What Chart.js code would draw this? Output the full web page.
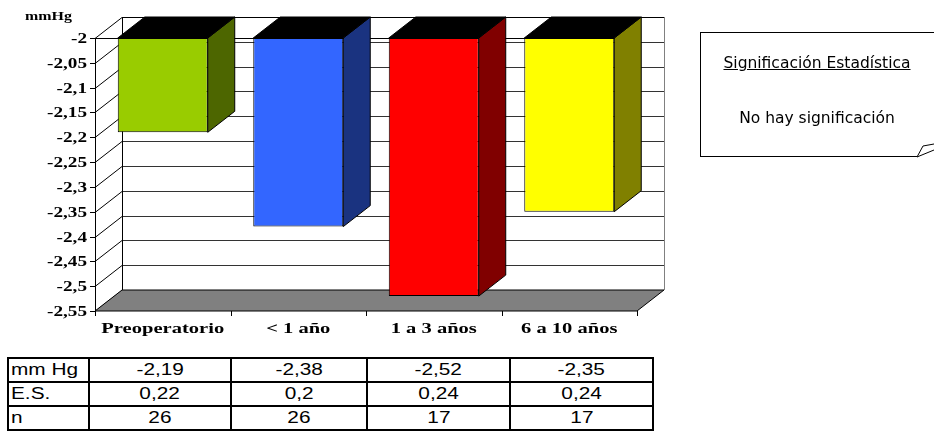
<!DOCTYPE html>
<html>
<head>
<meta charset="utf-8">
<script src="https://cdn.jsdelivr.net/npm/chart.js@4.4.1/dist/chart.umd.min.js"></script>
<style>
  html, body { margin: 0; padding: 0; background: #fff; }
  body { position: relative; width: 934px; height: 446px; overflow: hidden; }
  #chartBox { position: absolute; left: 0; top: 0; width: 934px; height: 350px; }
  #note { position: absolute; left: 700px; top: 32px; width: 260px; height: 125px; border-left: 1px solid #000; border-top: 1px solid #000; box-sizing: border-box; }
  #noteBottom { position: absolute; left: 700px; top: 156px; width: 217px; height: 1px; background: #000; }
  .noteText { position: absolute; left: 700px; width: 234px; text-align: center; font: 15.5px "DejaVu Sans", sans-serif; line-height: 18px; color: #000; }
  #fold { position: absolute; left: 910px; top: 138px; }
  #stats { position: absolute; left: 7px; top: 357px; border-collapse: collapse; table-layout: fixed; font: 16px "Liberation Sans", Arial, sans-serif; }
  #stats td { border: 2px solid #000; height: 22px; padding: 0; text-align: center; white-space: nowrap; overflow: hidden; }
  #stats td span { display: inline-block; transform: scaleX(1.3); }
  #stats td.rowHead { text-align: left; padding-left: 2px; }
  #stats td.rowHead span { transform-origin: left center; }
</style>
</head>
<body>
<div id="chartBox"><canvas id="chart" width="934" height="350"></canvas></div>

<div id="note"></div>
<div id="noteBottom"></div>
<div class="noteText" style="top:54px; text-decoration: underline;">Significación Estadística</div>
<div class="noteText" style="top:109px;">No hay significación</div>
<svg id="fold" width="24" height="22">
  <polyline points="7,19 13,8 24,6" fill="none" stroke="#000" stroke-width="1"/>
  <line x1="7" y1="19" x2="24" y2="12" stroke="#000" stroke-width="1"/>
</svg>

<table id="stats">
  <colgroup>
    <col style="width:81px"><col style="width:142px"><col style="width:136px"><col style="width:143px"><col style="width:143px">
  </colgroup>
  <tbody id="statsBody"></tbody>
</table>

<script>
const categories = ['Preoperatorio', '< 1 año', '1 a 3 años', '6 a 10 años'];
const meanValues = [-2.19, -2.38, -2.52, -2.35];
const meanLabels = ['-2,19', '-2,38', '-2,52', '-2,35'];
const errLabels = ['0,22', '0,2', '0,24', '0,24'];
const nLabels = ['26', '26', '17', '17'];
const yTicks = [-2, -2.05, -2.1, -2.15, -2.2, -2.25, -2.3, -2.35, -2.4, -2.45, -2.5, -2.55];
const yTickLabels = ['-2', '-2,05', '-2,1', '-2,15', '-2,2', '-2,25', '-2,3', '-2,35', '-2,4', '-2,45', '-2,5', '-2,55'];
const frontColors = ['#99CC00', '#3366FF', '#FF0000', '#FFFF00'];
const sideColors = ['#4D6600', '#1A3380', '#800000', '#808000'];

// fill table
const rows = [['mm Hg', meanLabels], ['E.S.', errLabels], ['n', nLabels]];
const tbody = document.getElementById('statsBody');
rows.forEach(([head, vals]) => {
  const tr = document.createElement('tr');
  tr.innerHTML = '<td class="rowHead"><span>' + head + '</span></td>' +
    vals.map(v => '<td><span>' + v + '</span></td>').join('');
  tbody.appendChild(tr);
});

// depth of the 3d box
const DX = 27, DY = -21;

function poly(ctx, pts, fill, stroke) {
  ctx.beginPath();
  ctx.moveTo(pts[0][0], pts[0][1]);
  for (let i = 1; i < pts.length; i++) ctx.lineTo(pts[i][0], pts[i][1]);
  ctx.closePath();
  if (fill) { ctx.fillStyle = fill; ctx.fill(); }
  if (stroke) { ctx.strokeStyle = stroke; ctx.lineWidth = 1; ctx.stroke(); }
}

function line(ctx, x1, y1, x2, y2, color) {
  ctx.beginPath();
  ctx.moveTo(x1, y1);
  ctx.lineTo(x2, y2);
  ctx.strokeStyle = color;
  ctx.lineWidth = 1;
  ctx.stroke();
}

// the original text is stretched sideways
function wideText(ctx, s, x, y, align, font, sx) {
  ctx.save();
  ctx.translate(x, y);
  ctx.scale(sx, 1);
  ctx.font = font;
  ctx.fillStyle = '#000';
  ctx.textAlign = align;
  ctx.textBaseline = 'middle';
  ctx.fillText(s, 0, 0);
  ctx.restore();
}

const frame3d = {
  id: 'frame3d',
  beforeDatasetsDraw(chart) {
    const { ctx, chartArea: a, scales: { x, y } } = chart;
    ctx.save();
    const top = y.getPixelForValue(yTicks[0]);
    const bottom = y.getPixelForValue(yTicks[yTicks.length - 1]);

    // back wall gridlines + side wall diagonals
    yTicks.forEach((v, i) => {
      const py = Math.round(y.getPixelForValue(v)) + 0.5;
      if (i > 0 && i < yTicks.length - 1) line(ctx, a.left + DX, py + DY, a.right + DX, py + DY, '#333');
      line(ctx, a.left, py, a.left + DX, py + DY, '#000');
    });
    line(ctx, a.left + DX, top + DY + 0.5, a.right + DX, top + DY + 0.5, '#000');
    line(ctx, a.left + DX + 0.5, top + DY, a.left + DX + 0.5, bottom + DY, '#000');
    line(ctx, a.right + DX + 0.5, top + DY, a.right + DX + 0.5, bottom + DY, '#808080');

    // floor
    poly(ctx, [[a.left, bottom], [a.right, bottom], [a.right + DX, bottom + DY], [a.left + DX, bottom + DY]], '#808080', '#000');

    // category axis line at the top with ticks
    const step = x.getPixelForValue(1) - x.getPixelForValue(0);
    line(ctx, a.left, top + 0.5, a.right, top + 0.5, '#000');
    for (let i = 0; i <= categories.length; i++) {
      const px = Math.round(x.getPixelForValue(i) - step / 2) + 0.5;
      line(ctx, px, top, px, top + 5, '#000');
    }

    // bar side and top faces
    chart.getDatasetMeta(0).data.forEach((bar, i) => {
      const p = bar.getProps(['x', 'y', 'base', 'width'], true);
      const l = p.x - p.width / 2, r = p.x + p.width / 2;
      poly(ctx, [[r, p.base], [r, p.y], [r + DX, p.y + DY], [r + DX, p.base + DY]], sideColors[i], '#000');
      poly(ctx, [[l, p.base], [r, p.base], [r + DX, p.base + DY], [l + DX, p.base + DY]], '#000', '#000');
    });
    ctx.restore();
  },
  afterDraw(chart) {
    const { ctx, chartArea: a, scales: { x, y } } = chart;
    ctx.save();
    const top = y.getPixelForValue(yTicks[0]);
    const bottom = y.getPixelForValue(yTicks[yTicks.length - 1]);
    const ax = Math.round(a.left) + 0.5;
    line(ctx, ax, top, ax, bottom, '#000');
    yTicks.forEach((v, i) => {
      const py = Math.round(y.getPixelForValue(v)) + 0.5;
      line(ctx, a.left - 5, py, a.left, py, '#000');
      wideText(ctx, yTickLabels[i], a.left - 8, py + 1, 'right', 'bold 15px "Liberation Serif", "Times New Roman", serif', 1.28);
    });

    const step = x.getPixelForValue(1) - x.getPixelForValue(0);
    for (let i = 0; i <= categories.length; i++) {
      const px = Math.round(x.getPixelForValue(i) - step / 2) + 0.5;
      line(ctx, px, bottom, px, bottom + 5, '#000');
    }
    categories.forEach((c, i) => {
      wideText(ctx, c, x.getPixelForValue(i), bottom + 18, 'center', 'bold 15px "Liberation Serif", "Times New Roman", serif', 1.37);
    });

    wideText(ctx, 'mmHg', 25, 17, 'left', 'bold 12px "Liberation Serif", "Times New Roman", serif', 1.33);
    ctx.restore();
  }
};

new Chart(document.getElementById('chart'), {
  type: 'bar',
  data: {
    labels: categories,
    datasets: [{
      data: meanValues,
      base: -2,
      backgroundColor: frontColors,
      borderColor: '#000',
      borderWidth: 1,
      borderSkipped: false,
      barPercentage: 0.664,
      categoryPercentage: 1
    }]
  },
  options: {
    responsive: false,
    animation: false,
    devicePixelRatio: 1,
    layout: { padding: { left: 95, right: 297, top: 38, bottom: 39 } },
    plugins: { legend: { display: false }, tooltip: { enabled: false } },
    scales: {
      x: { display: false },
      y: { display: false, min: -2.55, max: -2 }
    }
  },
  plugins: [frame3d]
});
</script>
</body>
</html>
